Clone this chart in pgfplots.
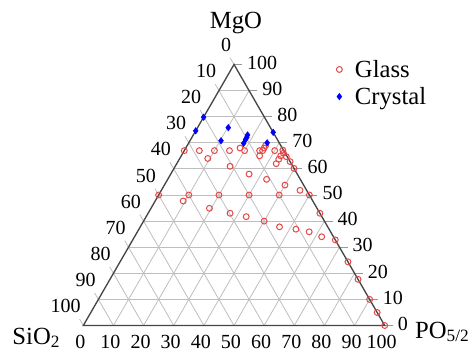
\documentclass[border=0pt]{standalone}
\usepackage{fontspec}
\setmainfont{Liberation Serif}
\usepackage{pgfplots}
\usepackage{pgfplotstable}
\pgfplotsset{compat=1.18}
\definecolor{glassred}{RGB}{228,72,72}
\definecolor{crysblue}{RGB}{0,0,255}
\definecolor{gridgray}{RGB}{190,190,190}
\definecolor{edgegray}{RGB}{70,70,70}

% compositions in %: S = SiO2, M = MgO, P = PO5/2
\pgfplotstableread{
S M P
33 67 0
28 67 5
23 67 10
18 67 15
14 68 18
13 67 20
8 67 25
7 67 26
6 68 26
5 69 26
9 65 26
3 67 30
0.2 67.2 32.6
0.6 66 33.4
2 65 33
0.3 64.7 35
3.3 63.7 33
0 62.8 37.2
5 62 33
0 60.2 39.8
26.7 64 9.3
20.8 61 18.2
16 58 26
11.2 56 32.8
6.2 53.8 40
2.2 51.8 46
50 50 0
40 50 10
30 50 20
20 50 30
10 50 40
0 50 50
43 47.7 9.3
35.7 44.9 19.4
29.8 43 27.2
25.1 41.7 33.2
20 40 40
0 43 57
16 37.8 46.2
11 36.9 52.1
7.1 35.9 57
3.9 34 62.1
0 32.8 67.2
0 24.4 75.6
0 17.7 82.3
0 10 90
0 5 95
0 0 100
}\glass

\pgfplotstableread{
S M P
20.2 79.8 0
25.4 74.6 0
14 75.8 10.2
18.9 70.8 10.3
9 73 18
9.7 72.1 18.2
10.5 71.3 18.2
11.9 69.8 18.3
4 70 26
0 74 26
}\crystal

\begin{document}
\begin{tikzpicture}
\begin{axis}[
  scale only axis, width=356.25pt, height=263.25pt,
  xmin=-27.64, xmax=129.96, ymin=-8.46, ymax=108.0,
  hide axis, clip=false,
  legend cell align=left,
  legend style={at={(axis cs:83.9,89.1)}, anchor=north west, draw=none, fill=none,
    inner sep=0pt, row sep=2pt, font=\fontsize{18.5}{22}\selectfont,
    /tikz/every odd column/.append style={column sep=7.5pt}},
]
\pgfplotsextra{
  \path (axis cs:-27.64,-8.46) rectangle (axis cs:129.96,108.0);
  \foreach \k in {10,20,...,90} {
    \pgfmathsetmacro{\a}{\k/2}
    \pgfmathsetmacro{\b}{0.8660254*\k}
    \pgfmathsetmacro{\c}{100-\k/2}
    \pgfmathsetmacro{\d}{50+\k/2}
    \pgfmathsetmacro{\e}{0.8660254*(100-\k)}
    \pgfmathsetmacro{\f}{100-\k}
    \pgfmathsetmacro{\g}{(100-\k)/2}
    \draw[gridgray, line width=0.6pt] (axis cs:\a,\b) -- (axis cs:\c,\b);
    \draw[gridgray, line width=0.6pt] (axis cs:\k,0) -- (axis cs:\d,\e);
    \draw[gridgray, line width=0.6pt] (axis cs:\f,0) -- (axis cs:\g,\e);
  }
  \foreach \k in {0,10,...,100} {
    % right axis: MgO
    \pgfmathsetmacro{\rx}{100-\k/2}
    \pgfmathsetmacro{\ry}{0.8660254*\k}
    \pgfmathsetmacro{\rxt}{\rx+2.7}
    \pgfmathsetmacro{\rxl}{\rx+4.3}
    \pgfmathsetmacro{\ryl}{\ry+0.6}
    \draw[gridgray!80!black, line width=0.6pt] (axis cs:\rx,\ry) -- (axis cs:\rxt,\ry);
    \node[anchor=west, inner sep=0pt, font=\fontsize{15}{18}\selectfont] at (axis cs:\rxl,\ryl) {\k};
    % left axis: SiO2
    \pgfmathsetmacro{\lx}{(100-\k)/2}
    \pgfmathsetmacro{\ly}{0.8660254*(100-\k)}
    \pgfmathsetmacro{\lxt}{\lx-1.25}
    \pgfmathsetmacro{\lyt}{\ly+2.165}
    \pgfmathsetmacro{\lxl}{\lx-0.83}
    \pgfmathsetmacro{\lyl}{\ly+6.47}
    \draw[gridgray, line width=0.6pt] (axis cs:\lx,\ly) -- (axis cs:\lxt,\lyt);
    \node[anchor=east, inner sep=0pt, font=\fontsize{15}{18}\selectfont] at (axis cs:\lxl,\lyl) {\k};
    % bottom axis: PO5/2
    \pgfmathsetmacro{\bx}{\k-1}
    \node[anchor=center, inner sep=0pt, font=\fontsize{15}{18}\selectfont] at (axis cs:\bx,-5.5) {\k};
  }
  \draw[edgegray, line width=1pt] (axis cs:0,0) -- (axis cs:100,0) -- (axis cs:50,86.60254) -- cycle;
  \node[anchor=base, inner sep=0pt, font=\fontsize{18.5}{22}\selectfont] at (axis cs:50.66,98.7) {MgO};
  \node[anchor=base west, inner sep=0pt, font=\fontsize{18.5}{22}\selectfont] at (axis cs:-23.6,-6.3) {SiO\textsubscript{2}};
  \node[anchor=base west, inner sep=0pt, font=\fontsize{18.5}{22}\selectfont] at (axis cs:110.0,-4.15) {PO\textsubscript{5/2}};
}
\addplot[only marks, mark=o, mark size=2.2pt, glassred, line width=0.75pt]
  table[x expr=\thisrow{P}+0.5*\thisrow{M}, y expr=0.8660254*\thisrow{M}] {\glass};
\addplot[only marks, mark=diamond*, mark size=2.4pt, crysblue]
  table[x expr=\thisrow{P}+0.5*\thisrow{M}, y expr=0.8660254*\thisrow{M}] {\crystal};
\legend{Glass,Crystal}
\end{axis}
\end{tikzpicture}
\end{document}
